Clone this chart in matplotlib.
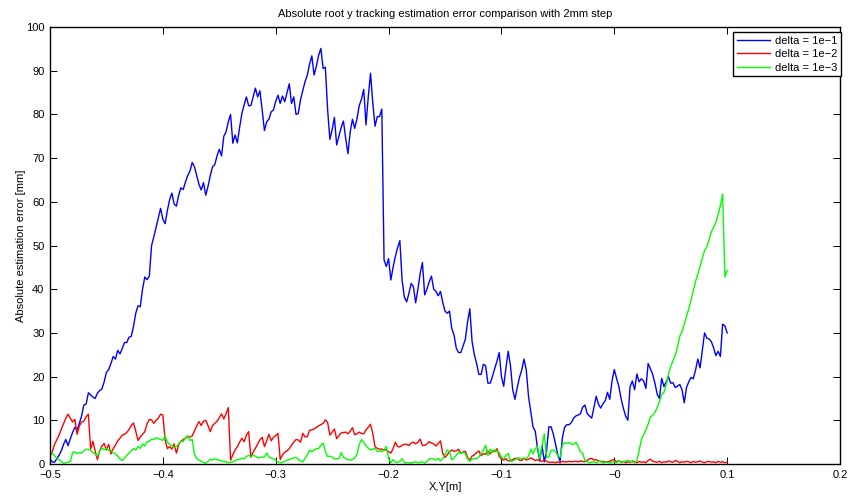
import numpy as np
import matplotlib
matplotlib.use("Agg")
import matplotlib.pyplot as plt
from matplotlib.ticker import FuncFormatter

plt.rcParams['font.family'] = ['Liberation Sans', 'DejaVu Sans']

# sampling grid: 2 mm steps from -0.5 m to 0.1 m (301 samples)
x_pos = np.linspace(-0.5, 0.1, 301)

# delta = 1e-1
err_d1 = [
    1.0, 0.5, 0.4, 1.2, 2.0, 3.0, 4.5, 5.6, 4.2, 5.8,
    7.2, 8.4, 7.8, 9.3, 11.0, 13.5, 13.7, 16.3, 15.8, 15.3,
    15.0, 16.2, 16.8, 17.2, 18.8, 21.0, 21.6, 23.0, 24.6, 24.0,
    26.0, 25.2, 26.4, 27.8, 27.8, 29.0, 29.2, 31.5, 34.5, 36.2,
    36.0, 40.0, 42.8, 42.2, 43.0, 50.0, 52.0, 54.2, 56.5, 58.5,
    56.0, 55.0, 58.0, 60.5, 62.0, 59.5, 59.0, 61.5, 63.2, 62.8,
    64.5, 66.0, 67.0, 69.0, 68.0, 66.0, 64.0, 62.7, 64.4, 61.5,
    63.5, 66.0, 68.0, 68.5, 70.5, 72.0, 70.5, 75.0, 76.0, 78.3,
    80.0, 73.4, 75.3, 73.5, 77.0, 80.2, 82.2, 84.0, 82.0, 82.0,
    84.0, 86.0, 84.0, 85.4, 81.0, 76.3, 78.3, 78.9, 80.6, 81.0,
    83.0, 84.4, 82.5, 84.2, 82.9, 85.0, 87.0, 82.5, 84.0, 80.0,
    80.2, 83.4, 85.5, 87.5, 89.0, 91.5, 93.4, 89.0, 91.0, 93.5,
    95.1, 90.5, 90.8, 81.0, 74.3, 76.5, 79.3, 73.0, 75.0, 77.0,
    78.5, 74.5, 71.0, 76.0, 78.9, 76.8, 79.0, 82.0, 83.5, 85.7,
    77.6, 84.0, 89.4, 82.7, 77.3, 79.5, 79.5, 81.2, 46.7, 45.2,
    47.0, 42.1, 45.0, 47.5, 49.5, 51.1, 42.0, 38.2, 37.1, 39.0,
    41.3, 40.6, 36.9, 40.0, 43.6, 46.1, 38.7, 40.0, 41.7, 43.0,
    40.0, 39.5, 38.5, 39.5, 37.0, 35.0, 34.5, 35.0, 31.0, 29.5,
    26.5, 25.5, 25.5, 27.0, 28.5, 32.5, 35.5, 28.0, 25.0, 23.0,
    20.5, 20.5, 22.8, 22.5, 18.5, 18.5, 20.0, 21.8, 23.5, 25.5,
    20.0, 17.8, 22.0, 25.8, 22.5, 17.0, 14.8, 17.5, 19.8, 21.5,
    24.0, 21.5, 15.5, 12.0, 8.5, 7.5, 3.5, 0.8, 4.2, 0.5,
    3.0, 8.5, 8.5, 6.8, 4.5, 2.0, 0.6, 6.0, 8.4, 9.0,
    9.0, 9.5, 10.5, 11.0, 11.2, 11.5, 13.0, 13.5, 11.5, 11.0,
    10.5, 13.0, 15.5, 13.7, 12.8, 13.8, 14.5, 16.4, 14.8, 19.0,
    21.6, 19.6, 17.8, 15.0, 12.8, 11.0, 10.0, 17.7, 19.0, 17.0,
    20.6, 18.8, 19.5, 19.0, 17.3, 23.0, 21.8, 20.5, 18.5, 16.0,
    15.0, 19.6, 17.7, 18.8, 20.0, 18.5, 18.6, 17.5, 17.8, 18.2,
    17.0, 14.0, 17.5, 18.8, 19.8, 19.5, 21.5, 24.0, 22.0, 26.0,
    30.0, 28.8, 28.6, 28.0, 26.6, 24.8, 25.8, 24.6, 32.0, 31.6,
    30.0,
]

# delta = 1e-2
err_d2 = [
    1.8, 2.8, 4.5, 5.5, 6.6, 8.0, 9.2, 10.5, 11.4, 10.5,
    9.6, 10.2, 6.8, 8.7, 9.6, 9.8, 10.8, 11.4, 3.4, 5.2,
    3.0, 1.0, 3.0, 4.1, 4.7, 3.2, 4.5, 2.3, 3.5, 4.3,
    5.3, 5.9, 6.6, 6.8, 7.2, 7.9, 8.8, 9.4, 7.5, 5.4,
    6.2, 6.8, 7.4, 9.2, 10.2, 10.1, 9.3, 10.0, 10.5, 11.4,
    11.2, 5.5, 3.5, 4.0, 3.4, 4.6, 2.5, 4.4, 5.2, 5.6,
    5.9, 6.2, 6.2, 6.4, 7.6, 8.7, 9.7, 8.8, 9.8, 10.0,
    8.8, 7.4, 8.8, 9.3, 9.8, 10.6, 11.5, 10.3, 11.5, 12.9,
    0.9, 2.1, 3.2, 4.0, 5.0, 5.9, 5.1, 6.6, 7.4, 1.5,
    2.7, 3.6, 4.6, 5.5, 6.1, 4.0, 5.3, 6.8, 5.3, 6.1,
    6.5, 7.0, 1.0, 2.1, 2.7, 3.0, 3.5, 4.3, 5.0, 5.6,
    5.5, 5.0, 7.0, 6.2, 6.3, 7.7, 7.8, 8.0, 8.4, 8.7,
    9.0, 9.3, 10.1, 9.5, 6.6, 7.3, 8.0, 5.8, 6.5, 7.1,
    7.2, 7.3, 6.9, 7.5, 8.3, 6.7, 6.9, 7.3, 7.0, 6.9,
    7.8, 8.4, 9.1, 7.0, 3.9, 3.6, 3.4, 3.4, 3.2, 3.2,
    2.8, 2.5, 3.5, 5.0, 4.0, 3.9, 4.3, 4.5, 4.5, 4.2,
    4.8, 5.0, 4.6, 5.0, 5.7, 4.2, 4.3, 4.6, 5.1, 4.8,
    4.6, 4.1, 4.7, 5.3, 2.4, 1.5, 2.1, 2.8, 3.2, 2.9,
    3.0, 3.4, 2.4, 2.8, 2.9, 1.5, 0.9, 1.8, 2.1, 2.6,
    3.0, 1.9, 2.4, 2.2, 3.0, 2.3, 3.0, 2.8, 3.5, 1.8,
    1.1, 0.9, 1.2, 0.7, 0.8, 1.0, 1.3, 1.3, 0.9, 0.8,
    1.3, 0.9, 1.1, 1.4, 1.1, 0.8, 1.0, 0.7, 0.6, 0.9,
    0.6, 0.4, 0.4, 0.4, 0.3, 0.5, 0.3, 0.6, 0.5, 0.5,
    0.6, 0.5, 0.6, 0.6, 0.5, 0.7, 0.6, 0.5, 0.8, 1.2,
    1.3, 0.9, 1.0, 0.7, 0.5, 0.6, 0.5, 0.5, 0.6, 0.9,
    1.0, 0.5, 0.8, 0.4, 0.6, 0.3, 0.5, 0.4, 0.7, 0.5,
    0.3, 0.6, 0.4, 0.5, 0.3, 0.8, 1.1, 0.6, 0.5, 0.4,
    0.6, 0.3, 0.5, 0.4, 0.7, 0.5, 0.4, 0.8, 0.6, 0.3,
    0.5, 0.4, 0.6, 0.5, 0.3, 0.6, 0.4, 0.5, 0.7, 0.4,
    0.3, 0.5, 0.6, 0.4, 0.5, 0.3, 0.6, 0.4, 0.5, 0.3,
    0.4,
]

# delta = 1e-3
err_d3 = [
    3.0, 2.5, 1.9, 1.3, 1.0, 0.5, 0.2, 0.3, 0.4, 0.5,
    2.6, 2.8, 2.4, 2.6, 2.5, 3.0, 3.4, 3.3, 3.2, 2.6,
    2.3, 1.8, 3.0, 3.6, 3.3, 3.6, 3.1, 3.2, 2.6, 2.3,
    1.8, 1.2, 0.8, 1.3, 2.0, 2.5, 3.0, 3.5, 3.2, 4.0,
    3.6, 4.6, 4.1, 5.1, 5.2, 5.7, 5.6, 6.0, 5.8, 5.6,
    5.4, 6.5, 5.0, 4.5, 4.2, 3.8, 4.0, 4.6, 5.2, 5.1,
    6.0, 6.5, 5.4, 5.6, 2.2, 1.3, 0.9, 0.6, 0.3, 0.2,
    0.6, 1.1, 0.9, 1.2, 1.0, 0.9, 0.7, 0.6, 0.5, 0.3,
    0.4, 0.5, 0.8, 1.0, 1.1, 1.3, 1.2, 1.7, 2.0, 1.7,
    2.0, 1.8, 1.4, 1.5, 1.6, 1.6, 2.5, 1.6, 1.3, 1.2,
    0.8, 0.5, 0.3, 0.4, 0.6, 0.9, 1.0, 1.2, 1.4, 1.5,
    1.1, 0.7, 0.5, 1.3, 2.1, 3.2, 2.8, 3.2, 3.5, 3.5,
    4.3, 4.8, 2.9, 1.7, 1.8, 1.6, 1.2, 1.2, 1.2, 2.6,
    1.6, 1.2, 1.0, 0.9, 1.0, 1.4, 2.2, 4.5, 5.6, 5.0,
    4.2, 3.6, 3.2, 3.4, 3.6, 2.9, 3.0, 2.8, 3.3, 4.0,
    1.2, 0.3, 1.0, 0.4, 0.4, 0.6, 1.2, 0.3, 0.3, 0.3,
    0.2, 0.4, 0.5, 0.3, 0.4, 0.5, 0.2, 0.6, 1.1, 1.3,
    1.1, 0.9, 1.3, 0.7, 1.2, 2.2, 3.2, 2.8, 1.0, 1.4,
    2.0, 2.7, 2.4, 2.7, 2.3, 1.2, 0.6, 1.1, 1.3, 1.2,
    1.6, 2.5, 3.2, 4.3, 1.9, 3.4, 2.6, 3.3, 2.9, 2.7,
    1.5, 1.2, 2.0, 2.4, 0.6, 0.7, 1.0, 1.3, 1.4, 1.2,
    1.4, 1.2, 1.8, 3.4, 2.3, 3.5, 4.0, 1.2, 4.2, 6.9,
    1.5, 1.6, 3.1, 3.2, 2.8, 1.9, 1.5, 4.3, 4.9, 4.7,
    4.9, 4.5, 4.5, 5.0, 4.0, 2.8, 2.5, 0.7, 0.5, 0.3,
    0.4, 0.5, 0.3, 0.5, 0.7, 0.3, 0.4, 0.4, 0.3, 0.4,
    0.5, 0.3, 0.8, 0.3, 0.5, 0.7, 0.8, 0.6, 0.5, 0.3,
    0.8, 3.0, 5.6, 6.7, 7.8, 9.1, 10.8, 11.1, 11.8, 12.9,
    14.3, 15.8, 16.4, 18.1, 20.6, 22.3, 23.6, 24.9, 26.8, 29.2,
    30.3, 32.0, 33.8, 35.5, 37.5, 39.6, 41.8, 43.4, 45.2, 47.1,
    48.9, 49.7, 51.3, 53.1, 54.2, 55.3, 57.1, 59.1, 61.8, 42.8,
    44.3,
]

labels = ['delta = 1e\u22121', 'delta = 1e\u22122', 'delta = 1e\u22123']
colors = ['#0000ff', '#ff0000', '#00ff00']

fig = plt.figure(figsize=(8.51, 4.97), dpi=100)
ax = fig.add_axes([50 / 851, 33 / 497, 790 / 851, 437 / 497])

for ys, lab, c in zip([err_d1, err_d2, err_d3], labels, colors):
    ax.plot(x_pos, ys, color=c, lw=1.0, label=lab)

ax.set_xlim(-0.5, 0.2)
ax.set_ylim(0, 100)
ax.set_xticks(np.arange(-0.5, 0.21, 0.1))
ax.set_yticks(np.arange(0, 101, 10))

def fmt(v, p):
    return ('%g' % round(v, 3)).replace('-', '\u2212')

ax.xaxis.set_major_formatter(FuncFormatter(fmt))
ax.yaxis.set_major_formatter(FuncFormatter(fmt))
ax.tick_params(direction='in', top=True, right=True, length=5, width=0.7,
               labelsize=8, pad=4)
for s in ax.spines.values():
    s.set_linewidth(1.0)

ax.set_title('Absolute root y tracking estimation error comparison with 2mm step',
             fontsize=8, pad=7)
ax.set_xlabel('X,Y[m]', fontsize=8, labelpad=2)
ax.set_ylabel('Absolute estimation error [mm]', fontsize=8, labelpad=0)

# legend box sits a few px under the top spine, flush with the right one
leg = ax.legend(loc='upper right', bbox_to_anchor=(1.0 + 1 / 790, 1 - 5 / 437),
                fontsize=8, fancybox=False, framealpha=1, edgecolor='black',
                handlelength=3.0, borderaxespad=0, borderpad=0.35,
                labelspacing=0.3, handletextpad=0.4)
leg.get_frame().set_linewidth(1.0)

fig.savefig('out.png', dpi=100)
